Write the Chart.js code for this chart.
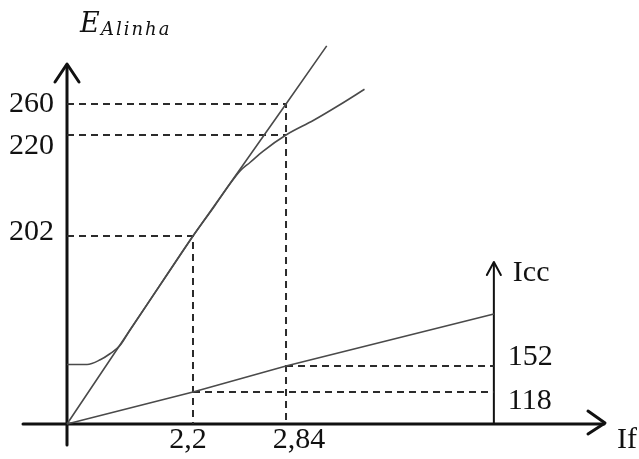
<!DOCTYPE html>
<html>
<head>
<meta charset="utf-8">
<script src="https://cdn.jsdelivr.net/npm/chart.js@4.4.1/dist/chart.umd.min.js"></script>
<style>
  body { margin: 0; background: #fff; }
  canvas { display: block; }
</style>
</head>
<body>
<canvas id="sketch" width="639" height="459"></canvas>
<script>
// values (If in A, E and Icc in V / A)
var occIf = [0, 0.35, 0.58, 0.75, 0.92, 1.1, 1.6, 2.0, 2.2, 2.35, 2.455, 2.524, 2.592, 2.681, 2.84, 3.03, 3.21, 3.38];
var occE  = [64, 64, 69, 75.5, 84, 101, 147, 184, 202, 207.4, 211.3, 213.6, 215.1, 217.1, 220, 239, 259, 279];

var gapIf = [0, 2.2, 2.84, 3.12];
var gapE  = [0, 202, 260, 335];

var iccIf  = [0, 2.2, 2.84, 4.27];
var iccVal = [0, 118, 152, 220];

var ifTicks  = [2.2, 2.84];
var eTicks   = [202, 220, 260];
var iccTicks = [118, 152];
var iccAxisIf = 4.27;

// the drawing is not to scale: each axis is stretched piece by piece
// [value, fraction of the axis]
var scaleKnots = {
    x:   [[0, 0], [2.2, 0.2342], [2.84, 0.4071]],
    e:   [[0, 0], [202, 0.4772], [220, 0.7335], [260, 0.8122]],
    icc: [[0, 0], [118, 0.0812], [152, 0.1472]]
};

function warp(knots, v) {
    for (var i = 1; i < knots.length; i++) {
        if (v <= knots[i][0] || i === knots.length - 1) {
            var a = knots[i - 1], b = knots[i];
            return a[1] + (v - a[0]) * (b[1] - a[1]) / (b[0] - a[0]);
        }
    }
}
function unwarp(knots, d) {
    for (var i = 1; i < knots.length; i++) {
        if (d <= knots[i][1] || i === knots.length - 1) {
            var a = knots[i - 1], b = knots[i];
            return a[0] + (d - a[1]) * (b[0] - a[0]) / (b[1] - a[1]);
        }
    }
}

class SketchScale extends Chart.LinearScale {
    getPixelForValue(value) {
        return this.getPixelForDecimal(warp(scaleKnots[this.id], value));
    }
    getValueForPixel(pixel) {
        return unwarp(scaleKnots[this.id], this.getDecimalForPixel(pixel));
    }
}
SketchScale.id = 'sketch';
SketchScale.defaults = Chart.LinearScale.defaults;
Chart.register(SketchScale);

function pts(xs, ys) {
    return xs.map(function (x, i) { return { x: x, y: ys[i] }; });
}
function comma(v) { return String(v).replace('.', ','); }

var solid = { borderColor: '#4a4a4a', borderWidth: 1.6, pointRadius: 0, fill: false, clip: false };
var dashed = { borderColor: '#2b2b2b', borderWidth: 2, borderDash: [7, 5], pointRadius: 0, fill: false, clip: false };

var datasets = [
    Object.assign({ label: 'E', data: pts(occIf, occE), yAxisID: 'e', cubicInterpolationMode: 'monotone' }, solid),
    Object.assign({ label: 'entreferro', data: pts(gapIf, gapE), yAxisID: 'e' }, solid),
    Object.assign({ label: 'Icc', data: pts(iccIf, iccVal), yAxisID: 'icc' }, solid),
    Object.assign({ data: [{x: 0, y: eTicks[0]}, {x: ifTicks[0], y: eTicks[0]}, {x: ifTicks[0], y: 0}], yAxisID: 'e' }, dashed),
    Object.assign({ data: [{x: 0, y: eTicks[1]}, {x: ifTicks[1], y: eTicks[1]}], yAxisID: 'e' }, dashed),
    Object.assign({ data: [{x: 0, y: eTicks[2]}, {x: ifTicks[1], y: eTicks[2]}, {x: ifTicks[1], y: 0}], yAxisID: 'e' }, dashed),
    Object.assign({ data: [{x: ifTicks[0], y: iccTicks[0]}, {x: iccAxisIf, y: iccTicks[0]}], yAxisID: 'icc' }, dashed),
    Object.assign({ data: [{x: ifTicks[1], y: iccTicks[1]}, {x: iccAxisIf, y: iccTicks[1]}], yAxisID: 'icc' }, dashed)
];

function arrow(ctx, tx, ty, ax, ay, bx, by) {
    ctx.beginPath();
    ctx.moveTo(ax, ay); ctx.lineTo(tx, ty); ctx.lineTo(bx, by);
    ctx.stroke();
}

var sketchAxes = {
    id: 'sketchAxes',
    beforeDatasetsDraw: function (chart) {
        var ctx = chart.ctx;
        var ox = chart.scales.x.getPixelForValue(0);
        var oy = chart.scales.e.getPixelForValue(0);
        var ix = chart.scales.x.getPixelForValue(iccAxisIf);
        ctx.save();
        ctx.strokeStyle = '#111';
        ctx.lineCap = 'round';
        ctx.lineJoin = 'round';
        ctx.lineWidth = 3;
        ctx.beginPath();
        ctx.moveTo(ox, oy + 21); ctx.lineTo(ox, 65);
        ctx.moveTo(ox - 44, oy); ctx.lineTo(604, oy);
        ctx.stroke();
        arrow(ctx, ox, 64, ox - 12, 82, ox + 12, 82);
        arrow(ctx, 605, oy - 1, 588, oy - 13, 588, oy + 10);
        ctx.lineWidth = 2;
        ctx.beginPath();
        ctx.moveTo(ix, oy); ctx.lineTo(ix, 263);
        ctx.stroke();
        arrow(ctx, ix, 262, ix - 7, 275, ix + 7, 275);
        ctx.restore();
    },
    afterDraw: function (chart) {
        var ctx = chart.ctx;
        var x = chart.scales.x, e = chart.scales.e, icc = chart.scales.icc;
        var ox = x.getPixelForValue(0), oy = e.getPixelForValue(0);
        var ix = x.getPixelForValue(iccAxisIf);
        ctx.save();
        ctx.fillStyle = '#111';
        ctx.font = '30px "Liberation Serif"';
        ctx.textBaseline = 'middle';

        // the sketch nudges a few labels off their guide lines
        var eNudge = { 220: 11, 202: -4 };
        ctx.textAlign = 'right';
        eTicks.forEach(function (v) {
            ctx.fillText(String(v), ox - 13, e.getPixelForValue(v) + (eNudge[v] || 0));
        });

        var ifNudge = { 2.2: -5, 2.84: 13 };
        ctx.textAlign = 'center';
        ifTicks.forEach(function (v) {
            ctx.fillText(comma(v), x.getPixelForValue(v) + (ifNudge[v] || 0), oy + 16);
        });

        var iccNudge = { 118: 9, 152: -9 };
        ctx.textAlign = 'left';
        iccTicks.forEach(function (v) {
            ctx.fillText(String(v), ix + 14, icc.getPixelForValue(v) + (iccNudge[v] || 0));
        });

        ctx.fillText('Icc', ix + 19, 273);
        ctx.fillText('If', 617, oy + 16);

        ctx.textBaseline = 'alphabetic';
        ctx.font = 'italic 27px "DejaVu Serif"';
        ctx.fillText('E', 80, 32);
        ctx.font = 'italic 18px "DejaVu Serif"';
        ctx.letterSpacing = '2px';
        ctx.fillText('Alinha', 101, 35);
        ctx.restore();
    }
};

new Chart(document.getElementById('sketch'), {
    type: 'line',
    data: { datasets: datasets },
    options: {
        responsive: false,
        animation: false,
        devicePixelRatio: 1,
        layout: { padding: { left: 67, right: 34, top: 30, bottom: 35 } },
        plugins: { legend: { display: false }, tooltip: { enabled: false } },
        scales: {
            x: { type: 'sketch', display: false, min: 0, max: 5.03 },
            e: { type: 'sketch', position: 'left', display: false, min: 0, max: 310 },
            icc: { type: 'sketch', position: 'right', display: false, min: 0, max: 290 }
        }
    },
    plugins: [sketchAxes]
});
</script>
</body>
</html>
